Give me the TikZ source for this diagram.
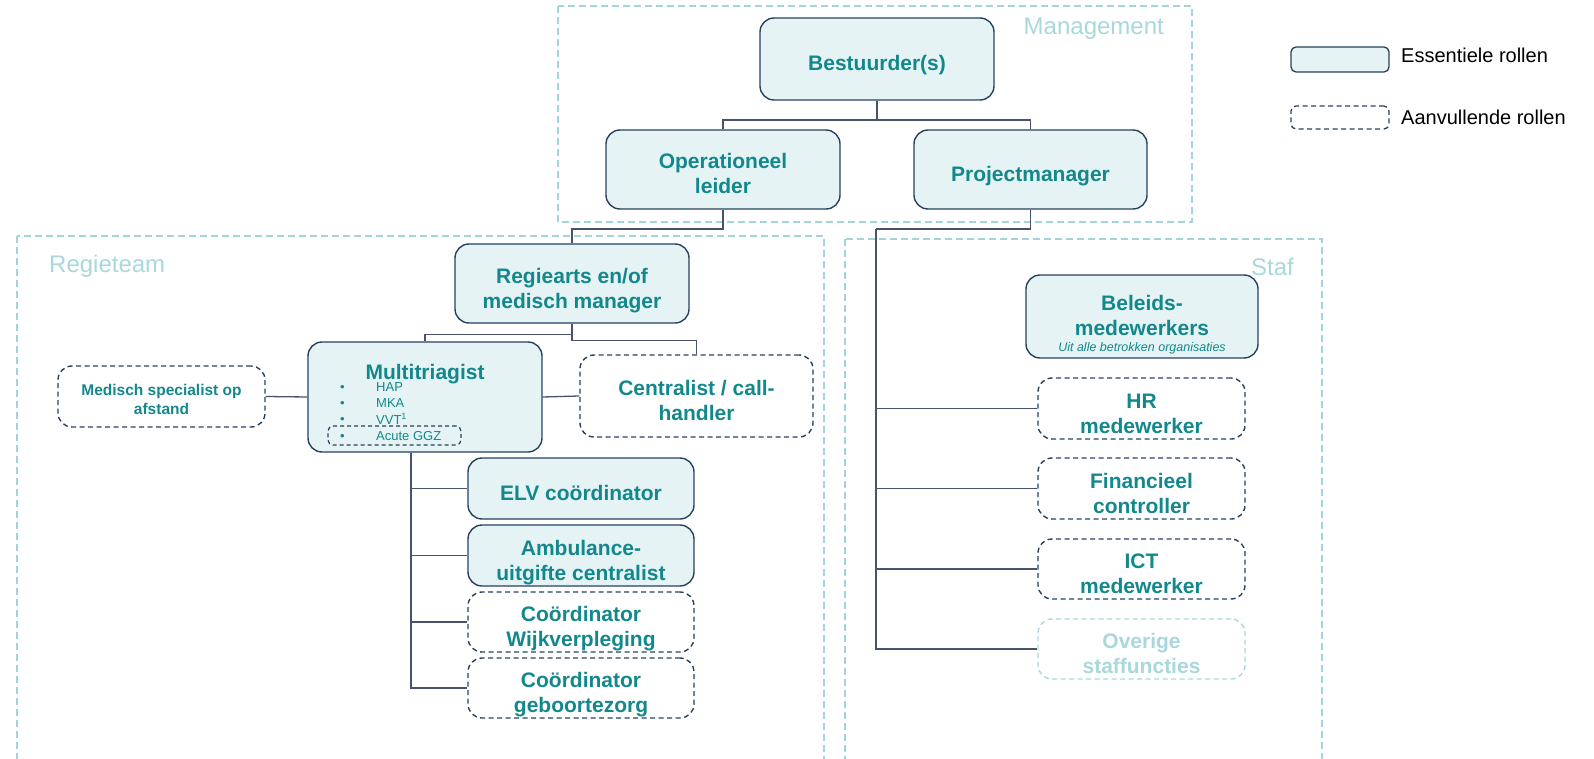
\documentclass[tikz,border=0pt]{standalone}
\usepackage{fontspec}
\setmainfont{Liberation Sans}
\definecolor{tealtxt}{RGB}{18,136,140}
\definecolor{navy}{RGB}{38,66,96}
\definecolor{boxfill}{RGB}{229,243,244}
\definecolor{conn}{RGB}{72,82,108}
\definecolor{region}{RGB}{160,214,218}
\definecolor{faint}{RGB}{168,216,219}
\newcommand{\roletext}[2][7pt]{\raisebox{0pt}[\dimexpr\height+#1\relax][\dimexpr\depth-#1\relax]{\begin{tabular}{@{}c@{}}#2\end{tabular}}}
\tikzset{
  base/.style={rounded corners=14pt, line width=1.4pt, inner sep=0pt,
    text=tealtxt, font=\bfseries\fontsize{21}{25}\selectfont},
  ess/.style={base, draw=navy, fill=boxfill},
  addl/.style={base, draw=navy, dash pattern=on 5pt off 3.5pt},
  faintbox/.style={base, draw=faint, text=faint, dash pattern=on 5pt off 3.5pt},
  regionbox/.style={draw=region, line width=1.2pt, dash pattern=on 7pt off 4pt},
  regionlabel/.style={text=faint, font=\fontsize{24}{28}\selectfont, inner sep=0pt},
  link/.style={draw=conn, line width=1.3pt},
  bul/.style={text=tealtxt, font=\fontsize{13}{15}\selectfont, inner sep=0pt, anchor=west},
  legendtxt/.style={text=black, font=\fontsize{20}{23}\selectfont, inner sep=0pt, anchor=west}
}
\begin{document}
\begin{tikzpicture}[x=1pt,y=-1pt]
\useasboundingbox (0,0) rectangle (1594,759);
\clip (0,0) rectangle (1594,759);

% regions
\draw[regionbox] (558,6) rectangle (1192,222);
\draw[regionbox] (17,236) rectangle (824,800);
\draw[regionbox] (845,239) rectangle (1322,800);
\node[regionlabel, anchor=east] (lmgmt) at (1164,29) {Management};
\node[regionlabel, anchor=west] (lregie) at (49,266) {Regieteam};
\node[regionlabel, anchor=east] (lstaf) at (1294,267) {Staf};

% management
\node[ess, minimum width=234pt, minimum height=82pt] (bes) at (877,59) {\roletext{Bestuurder(s)}};
\node[ess, minimum width=234pt, minimum height=79pt] (ope) at (723,169.5) {\roletext{Operationeel\\leider}};
\node[ess, minimum width=233pt, minimum height=79pt] (pro) at (1030.5,169.5) {\roletext{Projectmanager}};

% regieteam
\node[ess, minimum width=234pt, minimum height=79pt] (reg) at (572,283.5) {\roletext{Regiearts en/of\\medisch manager}};
\node[ess, minimum width=234pt, minimum height=110pt] (mul) at (425,397) {};
\node[text=tealtxt, font=\bfseries\fontsize{21}{25}\selectfont, inner sep=0pt] (multitle) at (425,374) {Multitriagist};
\node[bul] (b1) at (340,388) {\fontsize{13}{13}\selectfont\textbullet};
\node[bul] (b2) at (340,404) {\fontsize{13}{13}\selectfont\textbullet};
\node[bul] (b3) at (340,420) {\fontsize{13}{13}\selectfont\textbullet};
\node[bul] (b4) at (340,437) {\fontsize{13}{13}\selectfont\textbullet};
\node[bul] (t1) at (376,387) {HAP};
\node[bul] (t2) at (376,403) {MKA};
\node[bul] (t3) at (376,419) {VVT\textsuperscript{1}};
\node[bul] (t4) at (376,436) {Acute GGZ};
\node[draw=navy, line width=1.2pt, dash pattern=on 4pt off 3pt, rounded corners=5pt,
  minimum width=133pt, minimum height=19pt, inner sep=0pt] (ggz) at (394.5,435.5) {};

\node[addl, minimum width=207pt, minimum height=61pt, font=\bfseries\fontsize{15.5}{19}\selectfont] (med) at (161.5,396.5) {\roletext[4.5pt]{Medisch specialist op\\afstand}};
\node[addl, minimum width=233pt, minimum height=82pt] (cen) at (696.5,396) {\roletext{Centralist / call-\\handler}};
\node[ess, minimum width=226pt, minimum height=61pt] (elv) at (581,488.5) {\roletext{ELV coördinator}};
\node[ess, minimum width=226pt, minimum height=61pt] (amb) at (581,555.5) {\roletext{Ambulance-\\uitgifte centralist}};
\node[addl, minimum width=226pt, minimum height=60pt] (wijk) at (581,622) {\roletext{Coördinator\\Wijkverpleging}};
\node[addl, minimum width=226pt, minimum height=60pt] (geb) at (581,688) {\roletext{Coördinator\\geboortezorg}};

% staf
\node[ess, minimum width=232pt, minimum height=83pt] (bel) at (1142,316.5) {\roletext[9pt]{Beleids-\\medewerkers\\[-9pt]{\mdseries\itshape\fontsize{12.5}{15}\selectfont Uit alle betrokken organisaties}}};
\node[addl, minimum width=207pt, minimum height=61pt] (hr) at (1141.5,408.5) {\roletext{HR\\medewerker}};
\node[addl, minimum width=207pt, minimum height=61pt] (fin) at (1141.5,488.5) {\roletext{Financieel\\controller}};
\node[addl, minimum width=207pt, minimum height=60pt] (ict) at (1141.5,569) {\roletext{ICT\\medewerker}};
\node[faintbox, minimum width=207pt, minimum height=60pt] (ove) at (1141.5,649) {\roletext{Overige\\staffuncties}};

% coordinates for buses
\coordinate (bus1) at (0,120);
\coordinate (bus2) at (0,229);
\coordinate (st) at (876,229);
\coordinate (tr) at (411,0);

% connectors
\draw[link] (bes.south) -- (bes.south |- bus1) -| (ope.north);
\draw[link] (bes.south) -- (bes.south |- bus1) -| (pro.north);
\draw[link] (ope.south) -- (ope.south |- bus2) -| (reg.north);
\draw[link] (pro.south) -- (pro.south |- bus2) -- (st);
\draw[link] (st) |- (hr.west);
\draw[link] (st) |- (fin.west);
\draw[link] (st) |- (ict.west);
\draw[link] (st) |- (ove.west);
\draw[link] (reg.south) -- ++(0,11) -| (mul.north);
\draw[link] (reg.south) -- ++(0,17) -| (cen.north);
\draw[link] (med.east) -- (mul.west);
\draw[link] (mul.east) -- (cen.west);
\draw[link] (mul.south -| tr) |- (elv.west);
\draw[link] (mul.south -| tr) |- (amb.west);
\draw[link] (mul.south -| tr) |- (wijk.west);
\draw[link] (mul.south -| tr) |- (geb.west);

% legend
\node[draw=navy, fill=boxfill, line width=1.3pt, rounded corners=5pt, minimum width=98pt, minimum height=25pt, inner sep=0pt] (lege) at (1340,59.5) {};
\node[draw=navy, line width=1.3pt, dash pattern=on 5pt off 3.5pt, rounded corners=5pt, minimum width=98pt, minimum height=23pt, inner sep=0pt] (lega) at (1340,117.5) {};
\node[legendtxt] (legetxt) at (1401,55) {Essentiele rollen};
\node[legendtxt] (legatxt) at (1401,117) {Aanvullende rollen};
\end{tikzpicture}
\end{document}
